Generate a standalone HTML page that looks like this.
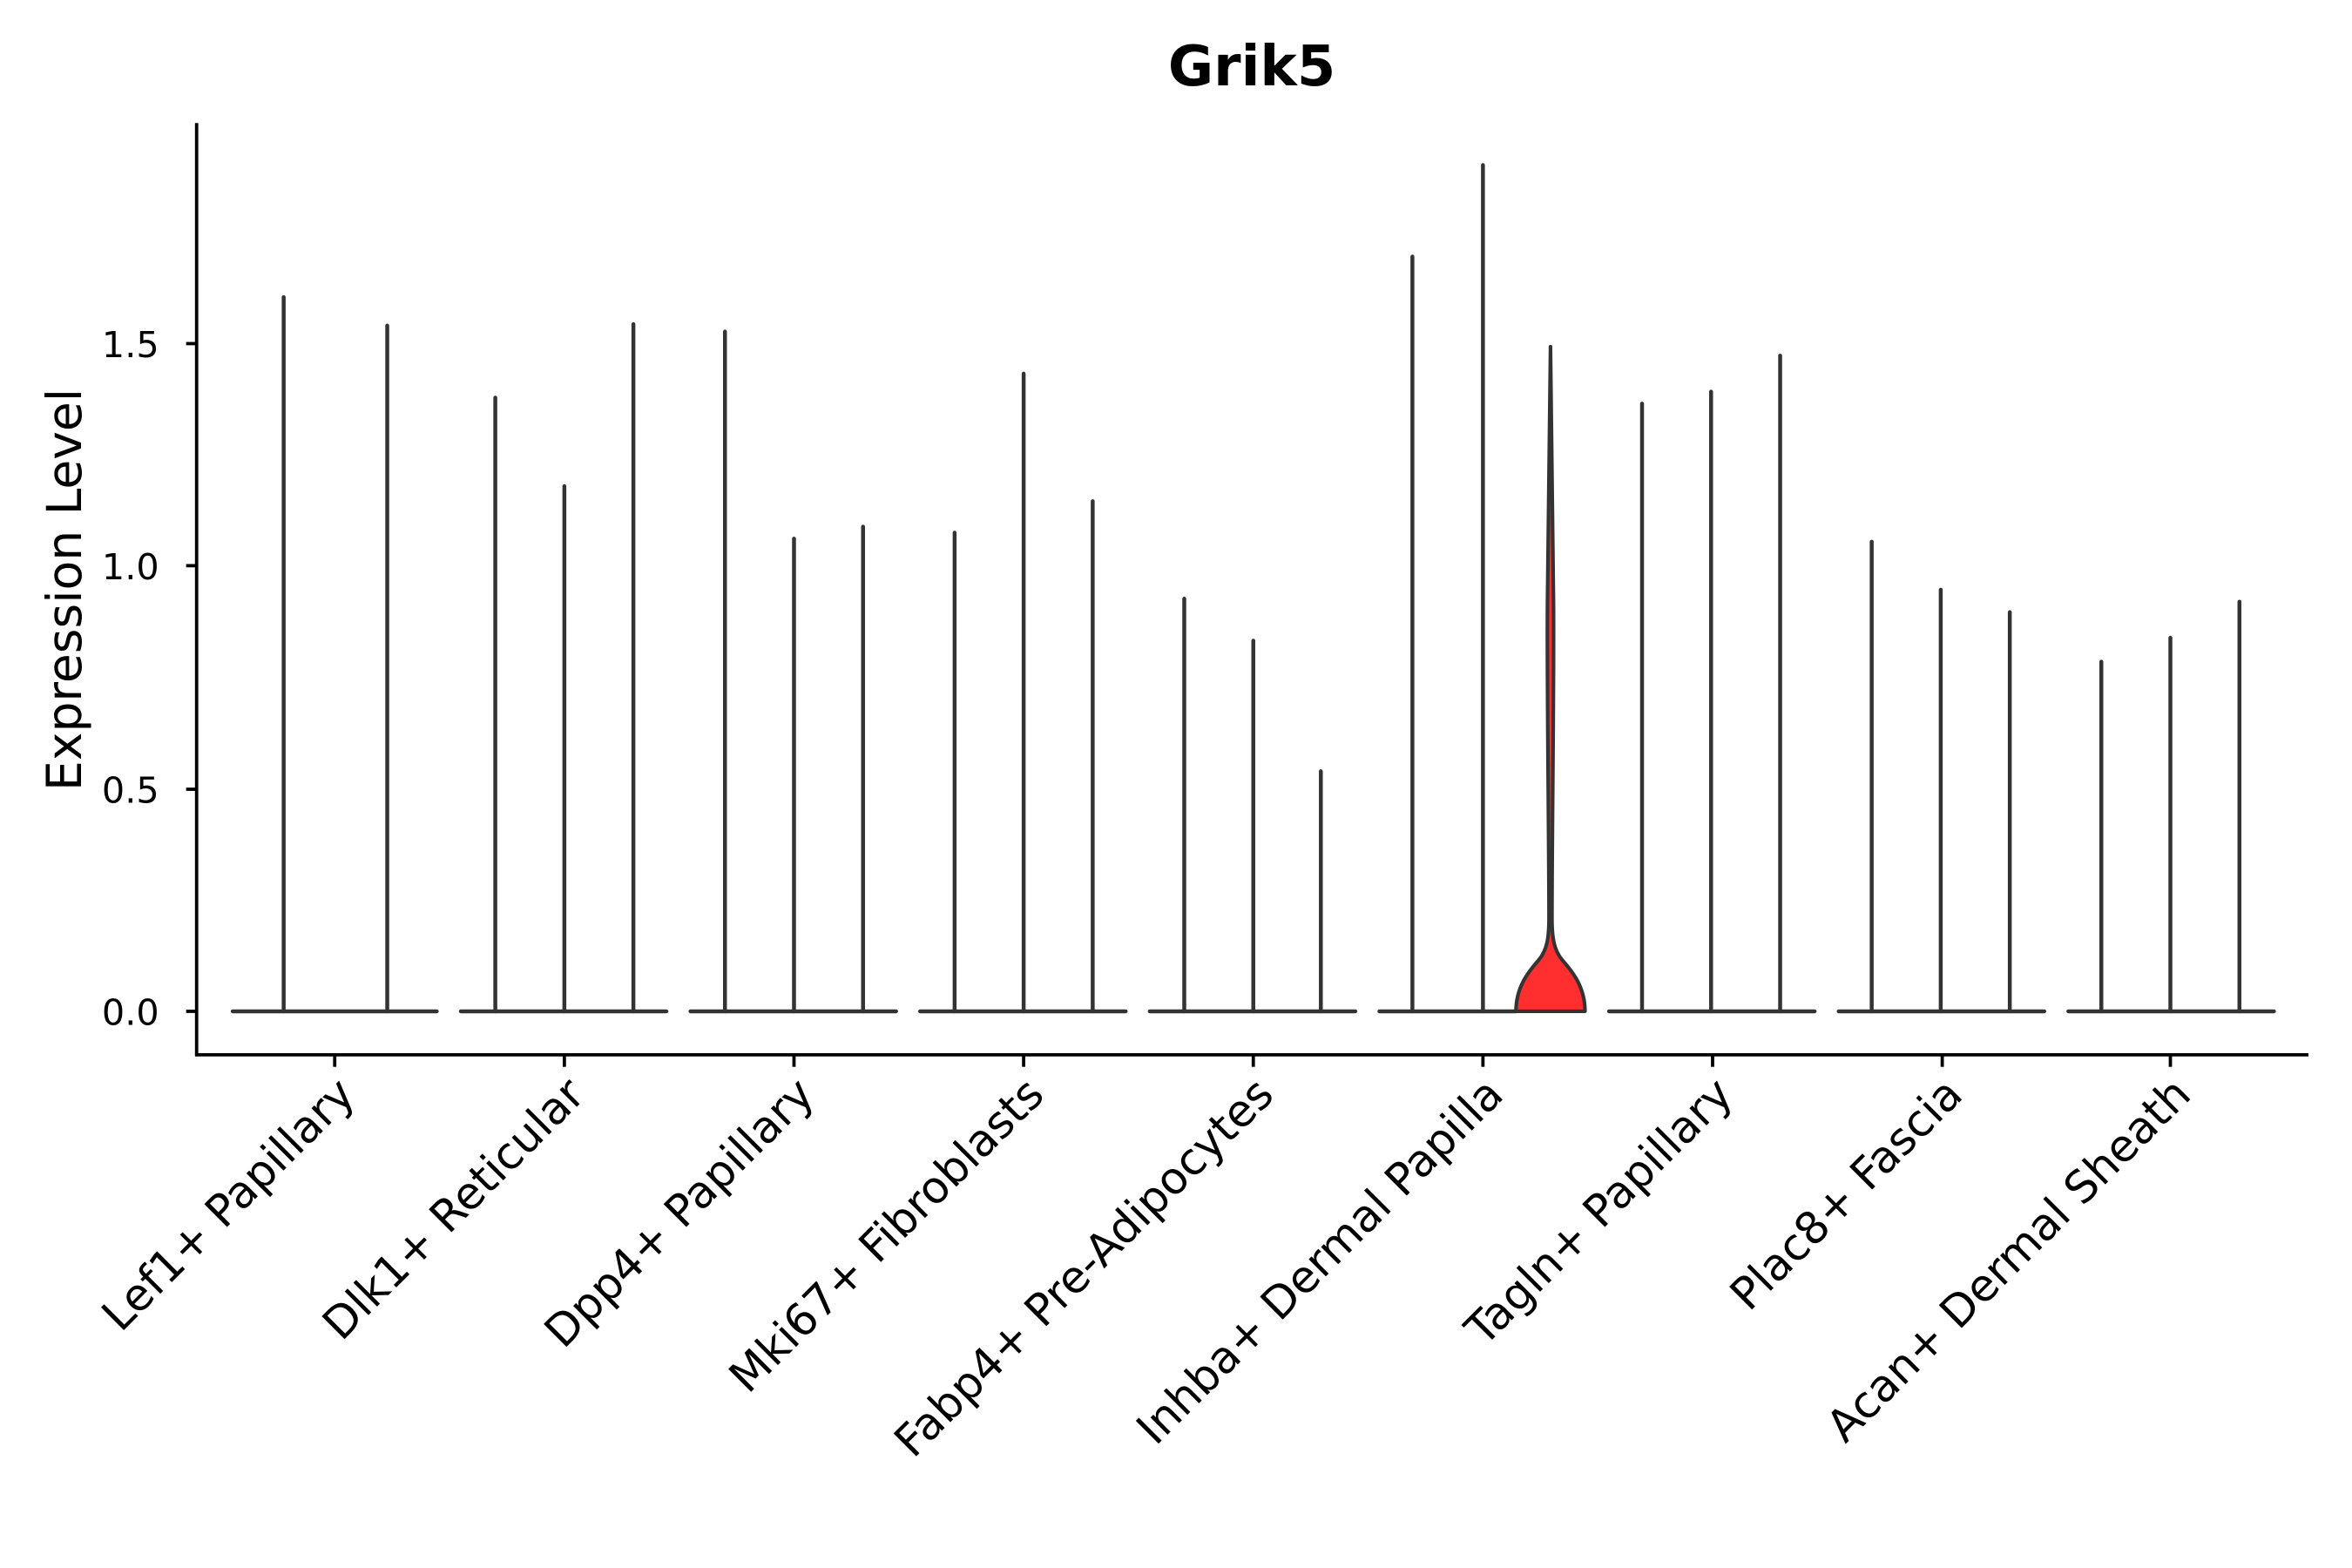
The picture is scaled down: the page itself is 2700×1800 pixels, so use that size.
<!DOCTYPE html>
<html><head><style>html,body{margin:0;padding:0;background:#fff}svg{display:block}</style></head>
<body>
<svg width="2700" height="1800" viewBox="0 0 1567 1045" preserveAspectRatio="none" xmlns="http://www.w3.org/2000/svg" font-family="DejaVu Sans, Liberation Sans, sans-serif">
<rect width="1567" height="1045" fill="#fff"/>
<text x="834" y="57" text-anchor="middle" font-size="37" font-weight="bold">Grik5</text>
<text transform="translate(54,393) rotate(-90)" text-anchor="middle" font-size="32">Expression Level</text>
<g font-size="24" text-anchor="end">
<text x="106" y="683">0.0</text><text x="106" y="535">0.5</text><text x="106" y="386">1.0</text><text x="106" y="238">1.5</text>
</g>
<g stroke="#000" stroke-width="2.2">
<line x1="131" y1="82" x2="131" y2="704"/><line x1="130" y1="703" x2="1538" y2="703"/>
<line x1="124" y1="674" x2="131" y2="674"/><line x1="124" y1="526" x2="131" y2="526"/><line x1="124" y1="377" x2="131" y2="377"/><line x1="124" y1="229" x2="131" y2="229"/>
<line x1="223" y1="703" x2="223" y2="711"/><line x1="376" y1="703" x2="376" y2="711"/><line x1="529" y1="703" x2="529" y2="711"/><line x1="682" y1="703" x2="682" y2="711"/><line x1="835" y1="703" x2="835" y2="711"/><line x1="988" y1="703" x2="988" y2="711"/><line x1="1141" y1="703" x2="1141" y2="711"/><line x1="1294" y1="703" x2="1294" y2="711"/><line x1="1446" y1="703" x2="1446" y2="711"/>
</g>
<g stroke="#333" stroke-width="2.6" stroke-linecap="round" fill="none">
<line x1="155" y1="674" x2="291" y2="674"/><line x1="307" y1="674" x2="444" y2="674"/><line x1="460" y1="674" x2="597" y2="674"/><line x1="613" y1="674" x2="750" y2="674"/><line x1="766" y1="674" x2="903" y2="674"/><line x1="919" y1="674" x2="1010" y2="674"/><line x1="1072" y1="674" x2="1209" y2="674"/><line x1="1225" y1="674" x2="1362" y2="674"/><line x1="1378" y1="674" x2="1515" y2="674"/>
<line x1="189" y1="198" x2="189" y2="674"/><line x1="258" y1="217" x2="258" y2="674"/>
<line x1="330" y1="265" x2="330" y2="674"/><line x1="376" y1="324" x2="376" y2="674"/><line x1="422" y1="216" x2="422" y2="674"/>
<line x1="483" y1="221" x2="483" y2="674"/><line x1="529" y1="359" x2="529" y2="674"/><line x1="575" y1="351" x2="575" y2="674"/>
<line x1="636" y1="355" x2="636" y2="674"/><line x1="682" y1="249" x2="682" y2="674"/><line x1="728" y1="334" x2="728" y2="674"/>
<line x1="789" y1="399" x2="789" y2="674"/><line x1="835" y1="427" x2="835" y2="674"/><line x1="880" y1="514" x2="880" y2="674"/>
<line x1="941" y1="171" x2="941" y2="674"/><line x1="988" y1="110" x2="988" y2="674"/>
<line x1="1094" y1="269" x2="1094" y2="674"/><line x1="1140" y1="261" x2="1140" y2="674"/><line x1="1186" y1="237" x2="1186" y2="674"/>
<line x1="1247" y1="361" x2="1247" y2="674"/><line x1="1293" y1="393" x2="1293" y2="674"/><line x1="1339" y1="408" x2="1339" y2="674"/>
<line x1="1400" y1="441" x2="1400" y2="674"/><line x1="1446" y1="425" x2="1446" y2="674"/><line x1="1492" y1="401" x2="1492" y2="674"/>
</g>
<path d="M1010,674 C1010,658 1018,648 1025,640 C1031,633 1032,624 1032,612 C1032,560 1030.5,450 1031,400 C1031.5,330 1032.5,260 1033,231 C1033.5,260 1034.5,330 1035,400 C1035.5,450 1034,560 1034,612 C1034,624 1035,633 1041,640 C1048,648 1056,658 1056,674 Z" fill="#ff2f2f" stroke="#333" stroke-width="2.4" stroke-linejoin="round"/>
<g font-size="29.5" text-anchor="end">
<text transform="translate(238,731) rotate(-45)">Lef1+ Papillary</text>
<text transform="translate(391,731) rotate(-45)">Dlk1+ Reticular</text>
<text transform="translate(544,731) rotate(-45)">Dpp4+ Papillary</text>
<text transform="translate(697,731) rotate(-45)">Mki67+ Fibroblasts</text>
<text transform="translate(850,731) rotate(-45)">Fabp4+ Pre-Adipocytes</text>
<text transform="translate(1003,731) rotate(-45)">Inhba+ Dermal Papilla</text>
<text transform="translate(1156,731) rotate(-45)">Tagln+ Papillary</text>
<text transform="translate(1309,731) rotate(-45)">Plac8+ Fascia</text>
<text transform="translate(1461,731) rotate(-45)">Acan+ Dermal Sheath</text>
</g>
</svg>
</body></html>
